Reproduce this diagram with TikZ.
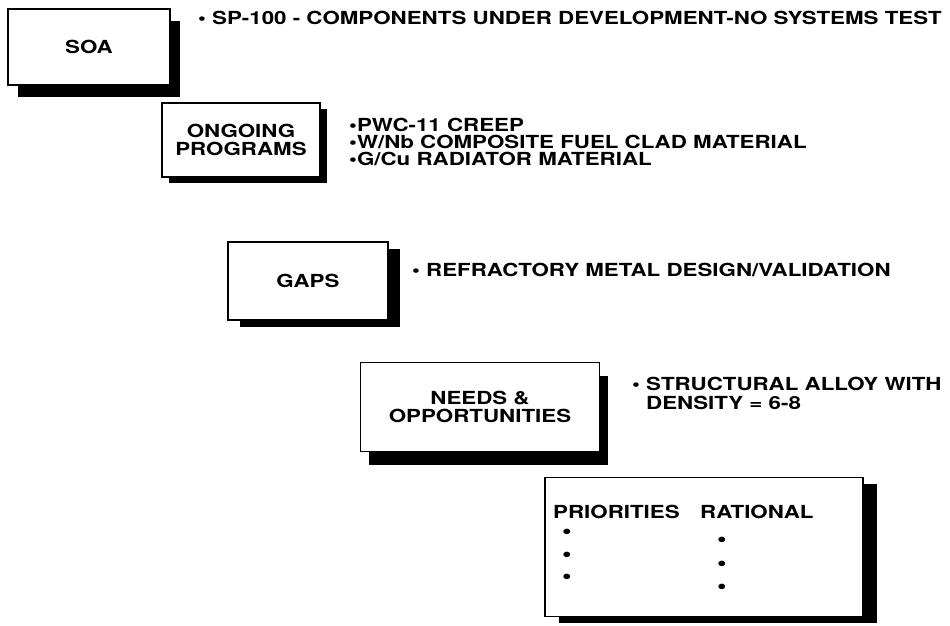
\documentclass[tikz,border=0pt]{standalone}
\usepackage{fontspec}
\setmainfont{TeX Gyre Heros}[FakeStretch=1.24]
\usetikzlibrary{shadows}

\begin{document}
\begin{tikzpicture}[x=1pt, y=-1pt,
    box/.style={rectangle, draw, line width=1.6pt, fill=white, inner sep=0pt, align=center,
        font=\bfseries\fontsize{18}{18}\selectfont},
    lift/.style 2 args={drop shadow={shadow xshift=#1pt, shadow yshift=-#2pt, fill=black, opacity=1}},
    note/.style={anchor=west, inner sep=0pt, align=left, font=\bfseries\fontsize{18}{17}\selectfont},
    dot/.style={inner sep=0pt, font=\bfseries\fontsize{22}{22}\selectfont}]

    \useasboundingbox (0,0) rectangle (950,625);

    % boxes, stepping down to the right
    \node [box, lift={10}{12}, minimum width=162pt, minimum height=76pt] (soa) at (89,47) {SOA};
    \node [box, lift={7}{6}, minimum width=158pt, minimum height=74pt] (ongoing) at (241,140) {ONGOING\\PROGRAMS};
    \node [box, lift={12}{7}, minimum width=160pt, minimum height=78pt] (gaps) at (308,281) {GAPS};
    \node [box, lift={8}{13}, minimum width=239pt, minimum height=89pt] (needs) at (480,407) {NEEDS \&\\OPPORTUNITIES};
    \node [box, lift={14}{6}, minimum width=318pt, minimum height=139pt] (prior) at (704,547) {};

    % notes beside each box
    \node [note] (soanote) at (198,18) {\textbullet\ SP-100 - COMPONENTS UNDER DEVELOPMENT-NO SYSTEMS TEST};
    \node [note, anchor=north west] (ongoingnote) at (349,118) {\textbullet PWC-11 CREEP\\\textbullet W/Nb COMPOSITE FUEL CLAD MATERIAL\\\textbullet G/Cu RADIATOR MATERIAL};
    \node [note] (gapsnote) at (412,270) {\textbullet\ REFRACTORY METAL DESIGN/VALIDATION};
    \node [note, anchor=north west, font=\bfseries\fontsize{18}{19}\selectfont] (needsnote) at (632,377) {\textbullet\ STRUCTURAL ALLOY WITH\\\phantom{\textbullet\ }DENSITY = 6-8};

    % table inside the last box
    \node [note] (priorities) at (553,512) {PRIORITIES};
    \node [note] (rational) at (700,512) {RATIONAL};
    \foreach \y [count=\i] in {534,557,579} {
        \node [dot] (pdot\i) at (567,\y) {\textbullet};
    }
    \foreach \y [count=\i] in {542,566,589} {
        \node [dot] (rdot\i) at (722,\y) {\textbullet};
    }
\end{tikzpicture}
\end{document}
